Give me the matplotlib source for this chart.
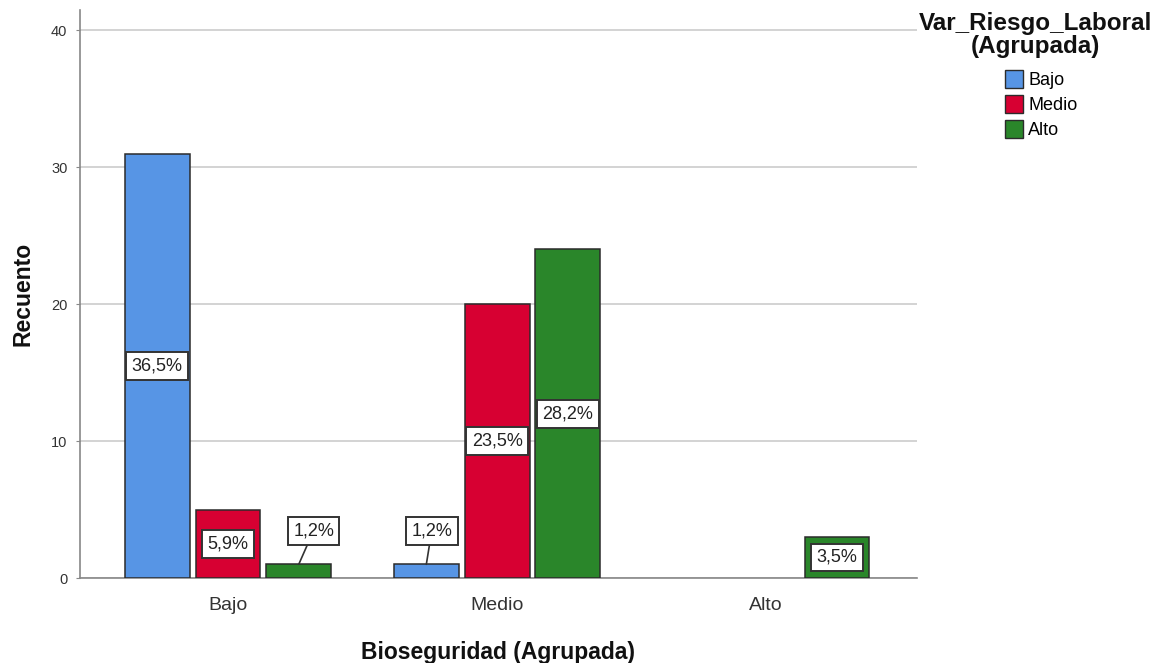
import matplotlib
matplotlib.use("Agg")
import matplotlib.pyplot as plt
import numpy as np

plt.rcParams['font.family'] = ['Liberation Sans', 'DejaVu Sans']

categories = ["Bajo", "Medio", "Alto"]
series_names = ["Bajo", "Medio", "Alto"]
counts_bajo = [31, 1, 0]
counts_medio = [5, 20, 0]
counts_alto = [1, 24, 3]
pct_bajo = ["36,5%", "1,2%", ""]
pct_medio = ["5,9%", "23,5%", ""]
pct_alto = ["1,2%", "28,2%", "3,5%"]
yticks = [0, 10, 20, 30, 40]

colors = ["#5795E5", "#D70032", "#2A862A"]
series = [counts_bajo, counts_medio, counts_alto]
pcts = [pct_bajo, pct_medio, pct_alto]

fig = plt.figure(figsize=(11.69, 6.63), dpi=100)
ax = fig.add_axes([0.0684, 0.1282, 0.716, 0.857])

x = np.arange(len(categories))
width = 0.241
step = 0.263
for i, (vals, col, labs) in enumerate(zip(series, colors, pcts)):
    xs = x + (i - 1) * step
    for xi, v, lab in zip(xs, vals, labs):
        if v <= 0:
            continue
        ax.bar(xi, v, width=width, color=col, edgecolor="#2b2b2b", linewidth=1.1, zorder=3)
        bbox = dict(boxstyle="square,pad=0.3", fc="white", ec="#333333", lw=1.4)
        if v >= 2:
            ax.text(xi, v / 2, lab, ha="center", va="center", fontsize=13, color="#222222",
                    bbox=bbox, zorder=5)
        else:
            dx = 0.055 if i == 2 else 0.02
            ax.annotate(lab, xy=(xi, v), xytext=(xi + dx, v + 2.45), ha="center", va="center",
                        fontsize=13, color="#222222", bbox=bbox, zorder=5,
                        arrowprops=dict(arrowstyle="-", color="#333333", lw=1.2,
                                        shrinkA=0, shrinkB=0))

ax.set_xlim(-0.55, 2.56)
ax.set_ylim(0, 41.5)
ax.set_yticks(yticks)
ax.set_yticklabels([str(t) for t in yticks], fontsize=10.5, color="#333333")
ax.set_xticks(x)
ax.set_xticklabels(categories, fontsize=14, color="#333333")
ax.tick_params(axis="x", length=0, pad=14)
ax.tick_params(axis="y", length=3, color="#888888", pad=6)
ax.yaxis.grid(True, color="#C8C8C8", lw=1.1, zorder=0)
ax.set_axisbelow(True)
for s in ["top", "right"]:
    ax.spines[s].set_visible(False)
for s in ["left", "bottom"]:
    ax.spines[s].set_color("#888888")
    ax.spines[s].set_linewidth(1.2)

ax.set_ylabel("Recuento", fontsize=16.5, fontweight="bold", color="#111111", labelpad=12)
ax.set_xlabel("Bioseguridad (Agrupada)", fontsize=16.5, fontweight="bold", color="#111111", labelpad=19)

from matplotlib.patches import Patch
handles = [Patch(facecolor=c, edgecolor="#2b2b2b", lw=1.0) for c in colors]
leg = fig.legend(handles, series_names, loc="upper left", bbox_to_anchor=(0.8534, 0.905),
                 frameon=False, fontsize=13, handlelength=1.0, handleheight=1.15,
                 handletextpad=0.3, labelspacing=0.33, borderaxespad=0)
fig.text(0.886, 0.982, "Var_Riesgo_Laboral\n(Agrupada)", ha="center", va="top",
         fontsize=17.5, fontweight="bold", color="#111111", linespacing=0.98)

fig.savefig("out.png", dpi=100)
